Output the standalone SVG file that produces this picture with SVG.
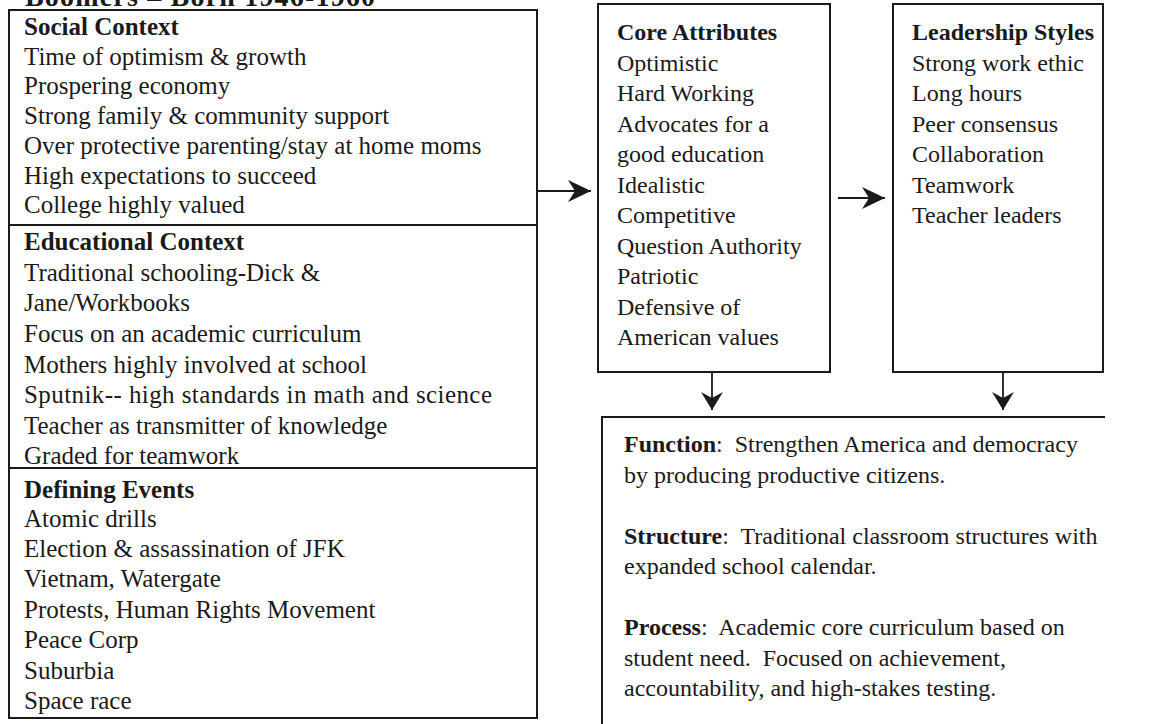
<svg xmlns="http://www.w3.org/2000/svg" width="1171" height="724" viewBox="0 0 1171 724">
<defs>
<style>
.box{fill:none;stroke:#1a1a1a;stroke-width:2}
.div{stroke:#1a1a1a;stroke-width:2}
.t{font-family:"Liberation Serif","Times New Roman",serif;fill:#1a1a1a}
.l{font-size:25px}
.r{font-size:24px}
.b{font-weight:bold}
.con{stroke:#1a1a1a;stroke-width:1.8;fill:none}
</style>
<marker id="ah" markerUnits="userSpaceOnUse" markerWidth="24" markerHeight="22" refX="23" refY="11" orient="auto"><path d="M0,0 L23,11 L0,22 L7,11 Z" fill="#1a1a1a"/></marker>
<marker id="ahs" markerUnits="userSpaceOnUse" markerWidth="19" markerHeight="22" refX="18" refY="11" orient="auto"><path d="M0,0 L18,11 L0,22 L6,11 Z" fill="#1a1a1a"/></marker>
</defs>
<rect width="1171" height="724" fill="#ffffff"/>
<text class="t b" x="25" y="6" font-size="28" textLength="350" lengthAdjust="spacing">Boomers – Born 1946-1960</text>

<g id="context">
<rect class="box" x="9" y="10" width="528" height="708"/>
<line class="div" x1="9" y1="225" x2="537" y2="225"/>
<line class="div" x1="9" y1="468" x2="537" y2="468"/>
<g class="t l">
<text class="b" x="24" y="35">Social Context</text>
<text x="24" y="64.7">Time of optimism &amp; growth</text>
<text x="24" y="94.4">Prospering economy</text>
<text x="24" y="124">Strong family &amp; community support</text>
<text x="24" y="154">Over protective parenting/stay at home moms</text>
<text x="24" y="183.5">High expectations to succeed</text>
<text x="24" y="213">College highly valued</text>
<text class="b" x="24" y="250">Educational Context</text>
<text x="24" y="281">Traditional schooling-Dick &amp;</text>
<text x="24" y="311">Jane/Workbooks</text>
<text x="24" y="342">Focus on an academic curriculum</text>
<text x="24" y="373">Mothers highly involved at school</text>
<text x="24" y="403" textLength="468" lengthAdjust="spacing">Sputnik-- high standards in math and science</text>
<text x="24" y="434">Teacher as transmitter of knowledge</text>
<text x="24" y="464">Graded for teamwork</text>
<text class="b" x="24" y="498">Defining Events</text>
<text x="24" y="527">Atomic drills</text>
<text x="24" y="557">Election &amp; assassination of JFK</text>
<text x="24" y="587">Vietnam, Watergate</text>
<text x="24" y="618">Protests, Human Rights Movement</text>
<text x="24" y="648">Peace Corp</text>
<text x="24" y="679">Suburbia</text>
<text x="24" y="709">Space race</text>
</g>
</g>

<g id="core">
<rect class="box" x="598" y="4" width="232" height="368"/>
<g class="t r">
<text class="b" x="617" y="40">Core Attributes</text>
<text x="617" y="70.5">Optimistic</text>
<text x="617" y="101">Hard Working</text>
<text x="617" y="131.5">Advocates for a</text>
<text x="617" y="162">good education</text>
<text x="617" y="192.5">Idealistic</text>
<text x="617" y="223">Competitive</text>
<text x="617" y="253.5">Question Authority</text>
<text x="617" y="284">Patriotic</text>
<text x="617" y="314.5">Defensive of</text>
<text x="617" y="345">American values</text>
</g>
</g>

<g id="leadership">
<rect class="box" x="893" y="4" width="210" height="368"/>
<g class="t r">
<text class="b" x="912" y="40">Leadership Styles</text>
<text x="912" y="70.5">Strong work ethic</text>
<text x="912" y="101">Long hours</text>
<text x="912" y="131.5">Peer consensus</text>
<text x="912" y="162">Collaboration</text>
<text x="912" y="192.5">Teamwork</text>
<text x="912" y="223">Teacher leaders</text>
</g>
</g>

<g id="outcome">
<path class="box" d="M1105,417 H602 V728"/>
<g class="t r">
<text xml:space="preserve" x="624" y="452"><tspan class="b">Function</tspan>:  Strengthen America and democracy</text>
<text x="624" y="482.5">by producing productive citizens.</text>
<text xml:space="preserve" x="624" y="543.5"><tspan class="b">Structure</tspan>:  Traditional classroom structures with</text>
<text x="624" y="574">expanded school calendar.</text>
<text xml:space="preserve" x="624" y="635"><tspan class="b">Process</tspan>:  Academic core curriculum based on</text>
<text xml:space="preserve" x="624" y="665.5">student need.  Focused on achievement,</text>
<text x="624" y="696">accountability, and high-stakes testing.</text>
</g>
</g>

<g id="connectors">
<line class="con" x1="538" y1="191" x2="591" y2="191" marker-end="url(#ah)"/>
<line class="con" x1="838" y1="198" x2="885" y2="198" marker-end="url(#ah)"/>
<line class="con" x1="712" y1="372" x2="712" y2="410" marker-end="url(#ahs)"/>
<line class="con" x1="1003" y1="372" x2="1003" y2="410" marker-end="url(#ahs)"/>
</g>
</svg>
